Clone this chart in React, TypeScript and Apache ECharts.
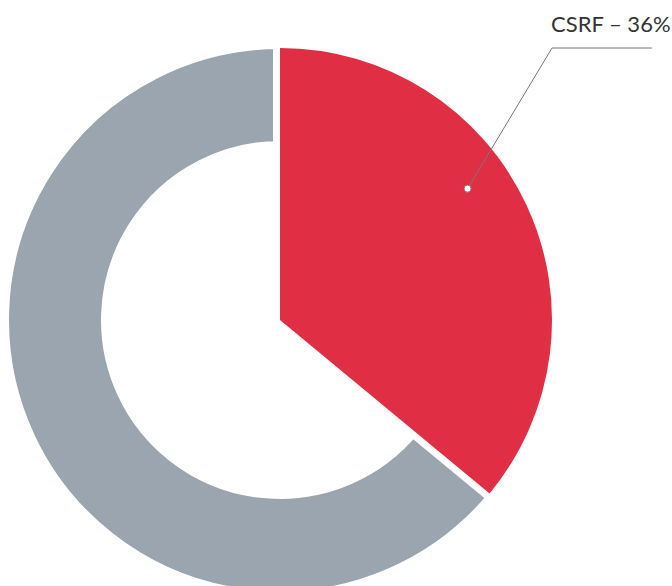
import React, { useEffect, useRef } from "react";
import * as echarts from "echarts";

const categories = ["CSRF", "Other"];
const values = [36, 64];
const colors = ["#E02F44", "#9AA5AF"];

const CX = 280;
const CY = 320;
const ANCHOR_ANGLE = 55; // degrees clockwise from top
const ANCHOR_R = 229;

export default function App() {
  const ref = useRef<HTMLDivElement>(null);
  useEffect(() => {
    if (!ref.current) return;
    const chart = echarts.init(ref.current, undefined, { renderer: "svg" });
    const a = (ANCHOR_ANGLE * Math.PI) / 180;
    const ax = CX + ANCHOR_R * Math.sin(a);
    const ay = CY - ANCHOR_R * Math.cos(a);
    const bendX = 552;
    const bendY = 48;
    const endX = 652;
    chart.setOption({
      animation: false,
      backgroundColor: "#ffffff",
      series: [
        {
          type: "pie",
          center: [CX, CY],
          radius: [172, 278],
          startAngle: 90,
          silent: true,
          label: { show: false },
          labelLine: { show: false },
          emphasis: { disabled: true },
          data: [
            { name: categories[0], value: values[0], itemStyle: { color: "rgba(0,0,0,0)", borderWidth: 0 } },
            { name: categories[1], value: values[1], itemStyle: { color: colors[1], borderColor: "#ffffff", borderWidth: 14 } },
          ],
        },
        {
          type: "pie",
          center: [CX, CY],
          radius: [0, 272],
          startAngle: 90,
          silent: true,
          emphasis: { disabled: true },
          label: { show: false },
          labelLine: { show: false },
          labelLayout: () => ({
            x: bendX - 1,
            y: 23,
            align: "left",
            verticalAlign: "middle",
          }),
          data: [
            {
              name: categories[0],
              value: values[0],
              itemStyle: { color: colors[0] },
              label: {
                show: true,
                position: "outside",
                formatter: "{b} – {d}%",
                color: "#333333",
                fontFamily: "Lato",
                fontSize: 22,
                overflow: "none",
                width: 200,
              },
              labelLine: { show: false },
            },
            { name: categories[1], value: values[1], itemStyle: { color: "rgba(0,0,0,0)" } },
          ],
        },
      ],
      graphic: [
        {
          type: "polyline",
          z: 100,
          shape: { points: [[ax, ay], [bendX, bendY], [endX, bendY]] },
          style: { fill: null, stroke: "#777777", lineWidth: 1 },
        },
        {
          type: "circle",
          z: 101,
          shape: { cx: ax, cy: ay, r: 3.5 },
          style: { fill: "#ffffff", stroke: "#777777", lineWidth: 1 },
        },
      ],
    });
    return () => chart.dispose();
  }, []);
  return (
    <div
      ref={ref}
      style={{ position: "fixed", left: 0, top: 0, width: 672, height: 586 }}
    />
  );
}
